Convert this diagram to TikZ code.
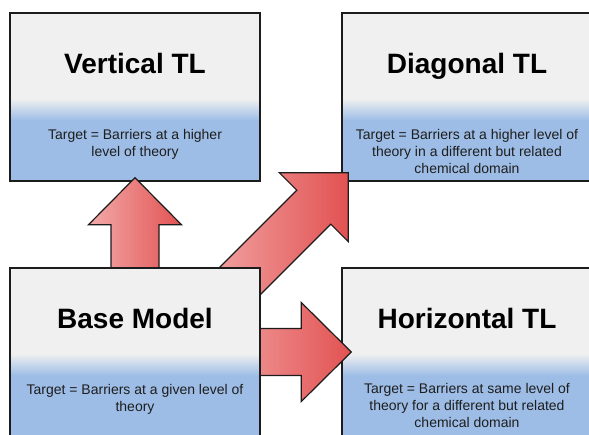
\documentclass[tikz,border=0pt]{standalone}
\usepackage{fontspec}
\setmainfont{Liberation Sans}
\usetikzlibrary{calc}
\definecolor{boxgray}{HTML}{F0F0F0}
\definecolor{boxblue}{HTML}{9DBDE6}
\definecolor{arrlight}{HTML}{F3AAAA}
\definecolor{arrdark}{HTML}{E25252}
\definecolor{arrmid}{HTML}{EE8E8E}
\definecolor{edge}{HTML}{1C1C1C}
\definecolor{txt}{HTML}{1E1E1E}
\pgfdeclareverticalshading{boxshade}{100bp}{color(0bp)=(boxblue); color(43bp)=(boxblue); color(49.5bp)=(boxgray); color(100bp)=(boxgray)}
\pgfdeclarelayer{mid}
\pgfdeclarelayer{top}
\pgfsetlayers{main,mid,top}
\begin{document}
\begin{tikzpicture}[x=1pt,y=-1pt,
  tlbox/.style={draw=edge, line width=1.4pt, shading=boxshade, minimum width=250pt, minimum height=168pt, inner sep=0pt},
  tltitle/.style={anchor=base, inner sep=0pt, font=\fontsize{28pt}{33pt}\selectfont\bfseries, text=black},
  tlbody/.style={anchor=base, inner sep=0pt, align=center, font=\fontsize{14pt}{17pt}\selectfont, text=txt},
  blockarrow/.style={draw=edge, line width=1.2pt, line join=miter, left color=arrlight, right color=arrdark}]
\useasboundingbox (0,0) rectangle (589,434);
% upper and right boxes
\node[tlbox] (vert) at (135,97) {};
\node[tlbox] (diag) at (467,97) {};
\node[tlbox] (horiz) at (467,352) {};
\node[tltitle] (vertT) at ($(vert.north)+(0,61)$) {Vertical TL};
\node[tlbody] (vertB) at ($(vert.north)+(0,144)$) {Target = Barriers at a higher\\level of theory};
\node[tltitle] (diagT) at ($(diag.north)+(0,61)$) {Diagonal TL};
\node[tlbody] (diagB) at ($(diag.north)+(0,161)$) {Target = Barriers at a higher level of\\theory in a different but related\\chemical domain};
\node[tltitle] (horizT) at ($(horiz.north)+(0,61)$) {Horizontal TL};
\node[tlbody] (horizB) at ($(horiz.north)+(0,160)$) {Target = Barriers at same level of\\theory for a different but related\\chemical domain};
% base box on top layer
\begin{pgfonlayer}{top}
\node[tlbox] (base) at (135,352) {};
\node[tltitle] (baseT) at ($(base.north)+(0,61)$) {Base Model};
\node[tlbody] (baseB) at ($(base.north)+(0,144)$) {Target = Barriers at a given level of\\theory};
\end{pgfonlayer}
% arrows
\begin{pgfonlayer}{mid}
\coordinate (vt) at ($(vert.south)+(0,-4)$);
\draw[blockarrow] (vt) -- ++(46.5,47) -- ++(-22.5,0) -- ++(0,66) -- ++(-48,0) -- ++(0,-66) -- ++(-22.5,0) -- cycle;
\coordinate (ht) at ($(horiz.west)+(10,0)$);
\draw[blockarrow, left color=arrmid] (ht) -- ++(-50,-49.5) -- ++(0,26) -- ++(-52,0) -- ++(0,47) -- ++(52,0) -- ++(0,26) -- cycle;
\coordinate (dt) at ($(diag.south west)+(7,-9)$);
\draw[blockarrow] (dt) -- ++(0,69) -- ++(-17.5,-17.5) -- ++(-100,100) -- ++(-34,-34) -- ++(100,-100) -- ++(-17.5,-17.5) -- cycle;
\end{pgfonlayer}
\end{tikzpicture}
\end{document}
